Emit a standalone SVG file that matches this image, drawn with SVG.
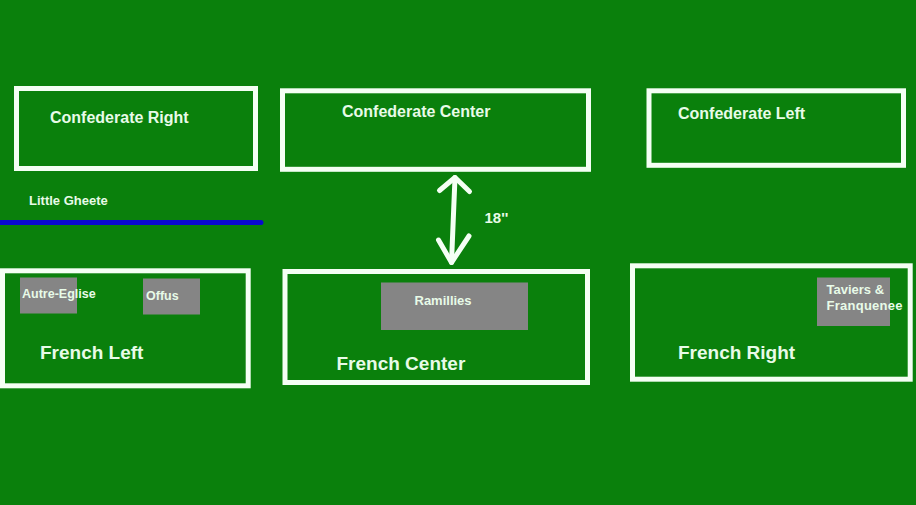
<svg xmlns="http://www.w3.org/2000/svg" width="916" height="505" viewBox="0 0 916 505">
<style>
.bg{fill:#0a800c}
.box{fill:none;stroke:#f4fff4;stroke-width:5}
.town{fill:#858585}
.t{font-family:"Liberation Sans",Arial,sans-serif;font-weight:bold;fill:#e8fbe8}
.big{font-size:16px}
.fr{font-size:19px}
.sm{font-size:12.5px}
.conn{fill:none;stroke:#f4fff4;stroke-width:5;stroke-linecap:round;stroke-linejoin:round}
</style>
<rect class="bg" x="0" y="0" width="916" height="505"/>
<g id="river">
<line x1="0" y1="222.5" x2="261" y2="222.5" stroke="#0a0ad0" stroke-width="5" stroke-linecap="round"/>
<text class="t" x="29" y="205" font-size="13">Little Gheete</text>
</g>
<g id="confederate-right">
<rect class="box" x="16.5" y="88.5" width="239" height="80"/>
<text class="t big" x="50" y="123">Confederate Right</text>
</g>
<g id="confederate-center">
<rect class="box" x="282.5" y="90.8" width="306" height="78.5"/>
<text class="t big" x="342" y="117">Confederate Center</text>
</g>
<g id="confederate-left">
<rect class="box" x="649" y="90.8" width="254.5" height="74.5"/>
<text class="t big" x="678" y="119">Confederate Left</text>
</g>
<g id="french-left">
<rect class="box" x="2.5" y="270.8" width="245.7" height="115"/>
<rect class="town" x="20" y="277.5" width="57" height="36"/>
<text class="t sm" x="22" y="298">Autre-Eglise</text>
<rect class="town" x="143" y="278.5" width="57" height="36"/>
<text class="t sm" x="146" y="299.5">Offus</text>
<text class="t fr" x="40" y="358.5">French Left</text>
</g>
<g id="french-center">
<rect class="box" x="285" y="271.5" width="302.5" height="111"/>
<rect class="town" x="381" y="282.5" width="147" height="47.5"/>
<text class="t" x="414.5" y="304.5" font-size="13">Ramillies</text>
<text class="t fr" x="336.5" y="369.5">French Center</text>
</g>
<g id="french-right">
<rect class="box" x="632.5" y="265.8" width="277.7" height="113.4"/>
<rect class="town" x="817" y="277.5" width="73" height="48.5"/>
<text class="t" x="826.5" y="293.5" font-size="13">Taviers &amp;</text>
<text class="t" x="826.5" y="309.5" font-size="13" textLength="76">Franquenee</text>
<text class="t fr" x="678" y="358.5">French Right</text>
</g>
<g id="connectors">
<path class="conn" d="M455,177.5 L451.5,262.5"/>
<path class="conn" d="M439.5,190.5 L455,177.5 L469.5,191.5"/>
<path class="conn" d="M438.5,240 L451.5,262.5 L469,236"/>
<text class="t" x="484.5" y="222.5" font-size="15">18''</text>
</g>
</svg>
